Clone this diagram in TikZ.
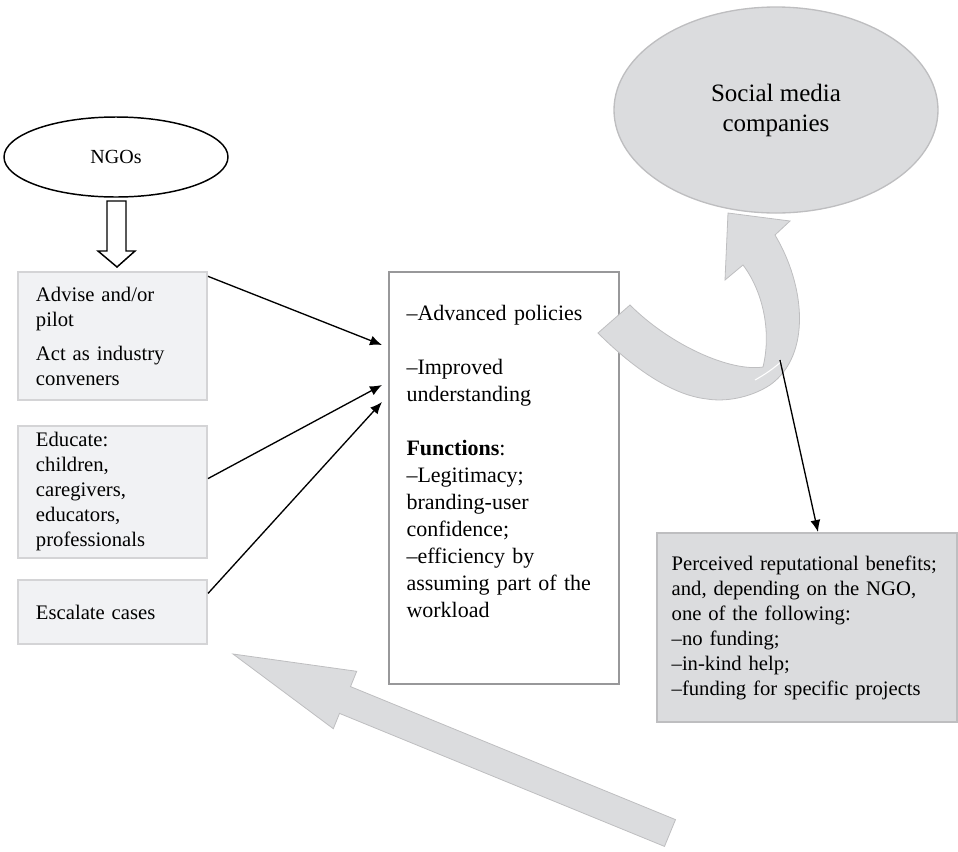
\documentclass[tikz,border=0pt]{standalone}
\usepackage{fontspec}
\setmainfont{Liberation Serif}
\usetikzlibrary{shapes.geometric,arrows.meta}

\definecolor{actfill}{RGB}{241,242,244}
\definecolor{actline}{RGB}{212,212,214}
\definecolor{greyfill}{RGB}{219,220,222}
\definecolor{greyline}{RGB}{190,190,192}
\definecolor{midline}{RGB}{152,152,154}

\tikzset{every picture/.style={line width=0.75pt}}
\tikzset{
  actbox/.style={draw=actline, fill=actfill, line width=1.5pt, minimum width=141.75pt,
    text width=114.75pt, inner xsep=13.5pt, align=left, font=\fontsize{15.5}{18.75}\selectfont},
  benefitbox/.style={draw=greyline, fill=greyfill, line width=1.5pt, minimum width=225pt,
    minimum height=141.75pt, text width=203pt, inner xsep=11pt, align=left,
    font=\fontsize{15.5}{18.75}\selectfont},
  conn/.style={line width=1pt, -{Latex[length=9pt,width=7.5pt]}},
  band/.style={fill=greyfill, draw=greyline, line width=0.6pt}
}

\begin{document}
\begin{tikzpicture}[x=0.75pt,y=0.75pt,yscale=-1,xscale=1]
\useasboundingbox (0,0) rectangle (958,851);

%Shape: Straight block arrow (bottom)
\draw[band] (233,654) -- (356.7,671.3) -- (350.5,686.6) -- (675.5,819.6) -- (664.5,846.4) -- (339.5,713.4) -- (333.3,728.7) -- cycle;

%Shape: Ellipse [social media]
\node[ellipse, draw=greyline, fill=greyfill, line width=1pt, minimum width=243pt, minimum height=154.5pt,
  inner sep=0pt, align=center, font=\fontsize{18.75}{22.5}\selectfont] (smc) at (776,110) {Social media\\companies};
%Shape: Ellipse [NGOs]
\node[ellipse, draw, fill=white, line width=1.1pt, minimum width=168pt, minimum height=60pt,
  inner sep=0pt, font=\fontsize{15}{18}\selectfont] (ngo) at (116,157) {NGOs};

%Shape: Hollow down arrow
\draw[line width=1.1pt, fill=white] (107,201) -- (126,201) -- (126,251) -- (135,251) -- (117,267) -- (98,251) -- (107,251) -- cycle;

% Text Node
\node[actbox, minimum height=96pt] (advise) at (112.5,336) {Advise and/or\\pilot\\[6.75pt]Act as industry\\conveners};
% Text Node
\node[actbox, minimum height=99pt] (educate) at (112.5,492) {Educate:\\children,\\caregivers,\\educators,\\professionals};
% Text Node
\node[actbox, minimum height=48pt] (escalate) at (112.5,612) {Escalate cases};

%Shape: Rectangle [middle]
\node[draw=midline, fill=white, line width=1.2pt, minimum width=172.5pt, minimum height=309pt] (mid) at (504,478) {};
% Text Node
\node[anchor=north west, inner sep=0pt, text width=150pt, align=left,
  font=\fontsize{16.5}{20.25}\selectfont] (midtext) at (406,305)
  {\textendash Advanced policies\\[20pt]\textendash Improved\\understanding\\[20pt]\textbf{Functions}:\\\textendash Legitimacy;\\branding-user\\confidence;\\\textendash efficiency by\\assuming part of the\\workload};

% Text Node
\node[benefitbox] (benefits) at (807,627.5) {Perceived reputational benefits;\\and, depending on the NGO,\\one of the following:\\\textendash no funding;\\\textendash in-kind help;\\\textendash funding for specific projects};

%Shape: Curved block arrow
\draw[band] (630,305) .. controls (670,345) and (730,372) .. (763,367) .. controls (772,330) and (762,290) .. (743,265) -- (725,280) -- (728,213) -- (790,221) -- (775,235) .. controls (805,285) and (812,355) .. (770,385) .. controls (750,398) and (725,402) .. (707,399) .. controls (670,395) and (630,365) .. (598,333) -- cycle;
\draw[white, line width=0.8pt] (782,361) .. controls (773,369) and (764,375) .. (755,380);

%Straight Lines
\coordinate (in1) at (382,345);
\coordinate (in2) at (382,385);
\coordinate (in3) at (382,402);
\coordinate (fold) at (780,360);
\draw[conn] (advise.32) -- (in1);
\draw[conn] (educate.8) -- (in2);
\draw[conn] (escalate.11) -- (in3);
\draw[conn] (fold) -- ([xshift=8.25pt]benefits.north);

\end{tikzpicture}
\end{document}
